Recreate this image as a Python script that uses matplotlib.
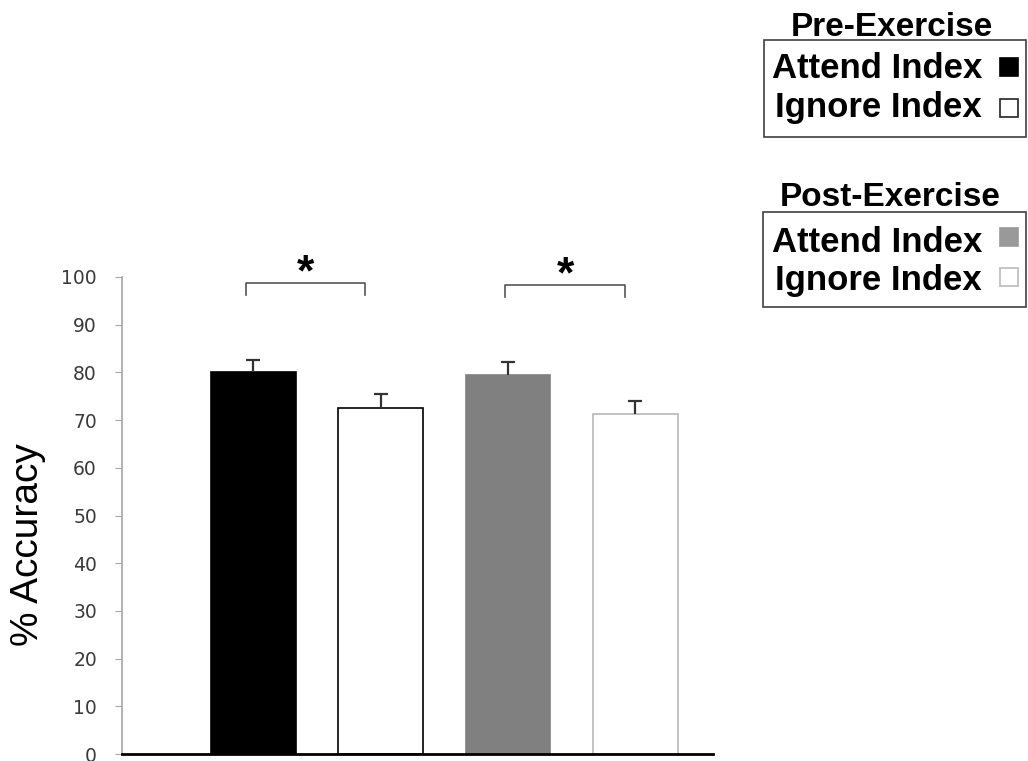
import matplotlib.pyplot as plt
from matplotlib.patches import Rectangle

# bar data (Pre attend, Pre ignore, Post attend, Post ignore)
means = [80.0, 72.5, 79.4, 71.3]
errors = [2.6, 3.0, 2.7, 2.6]
faces = ['black', 'white', '#808080', 'white']
edges = ['black', 'black', '#808080', '#b8b8b8']
yticks = list(range(0, 101, 10))

# significance brackets: (left, right, top, drop)
brackets = [(-0.06, 0.88, 98.7, 2.5), (1.98, 2.92, 98.3, 2.5)]

W, H = 1028, 761
fig = plt.figure(figsize=(W / 100, H / 100), dpi=100)
ax = fig.add_axes([122 / W, 7 / H, 591 / W, 477 / H])

x = list(range(len(means)))
ax.bar(x, means, width=0.665, color=faces, edgecolor=edges, linewidth=1.2, zorder=2)
_, caps, _ = ax.errorbar(x, means, yerr=[[0] * len(errors), errors], fmt='none',
                         ecolor='#333333', elinewidth=1.6, capsize=5, capthick=1.6, zorder=3)
caps[0].set_visible(False)  # only the upper cap is shown

for left, right, top, drop in brackets:
    ax.plot([left, left, right, right], [top - drop, top, top, top - drop],
            color='#555555', lw=1.2, clip_on=False)
    ax.text((left + right) / 2, top - 2.3, '*', ha='center', va='bottom',
            fontsize=32, fontweight='bold', family='Liberation Sans', clip_on=False)

ax.set_xlim(-1.03, 3.61)
ax.set_ylim(0, 100)
ax.set_yticks(yticks)
ax.set_xticks([])
ax.tick_params(axis='y', length=5, color='#a6a6a6', labelsize=13.5,
               labelcolor='#3a3a3a', pad=13)
for s in ['top', 'right']:
    ax.spines[s].set_visible(False)
ax.spines['left'].set_color('#a6a6a6')
ax.spines['left'].set_linewidth(1.2)
ax.spines['bottom'].set_color('black')
ax.spines['bottom'].set_linewidth(2)

fig.text(28 / W, 1 - 545 / H, '% Accuracy', rotation=90, ha='center', va='center',
         fontsize=28, family='Liberation Sans')


def fx(px):
    return px / W


def fy(py):
    return 1 - py / H


legends = [
    ('Pre-Exercise', 892, 36, (764, 40, 137), [('Attend Index', 78, 67, 'black', 'black'),
                                               ('Ignore Index', 117, 108, 'white', '#222222')]),
    ('Post-Exercise', 890, 206, (763, 212, 307), [('Attend Index', 252, 237, '#999999', '#999999'),
                                                  ('Ignore Index', 290, 277, 'white', '#bbbbbb')]),
]
for title, tx, ty, (bx, btop, bbot), entries in legends:
    fig.text(fx(tx), fy(ty), title, ha='center', va='baseline', fontsize=24,
             fontweight='bold', family='Liberation Sans')
    fig.patches.append(Rectangle((fx(bx), fy(bbot)), fx(1026 - bx), (bbot - btop) / H,
                                 transform=fig.transFigure, fill=False,
                                 edgecolor='#404040', lw=1.2))
    for label, base, sy, fc, ec in entries:
        fig.text(fx(982), fy(base), label, ha='right', va='baseline', fontsize=25,
                 fontweight='bold', family='Liberation Sans')
        fig.patches.append(Rectangle((fx(1000), fy(sy + 9)), fx(18), 18 / H,
                                     transform=fig.transFigure, facecolor=fc,
                                     edgecolor=ec, lw=1.2))

fig.savefig('out.png', dpi=100)
